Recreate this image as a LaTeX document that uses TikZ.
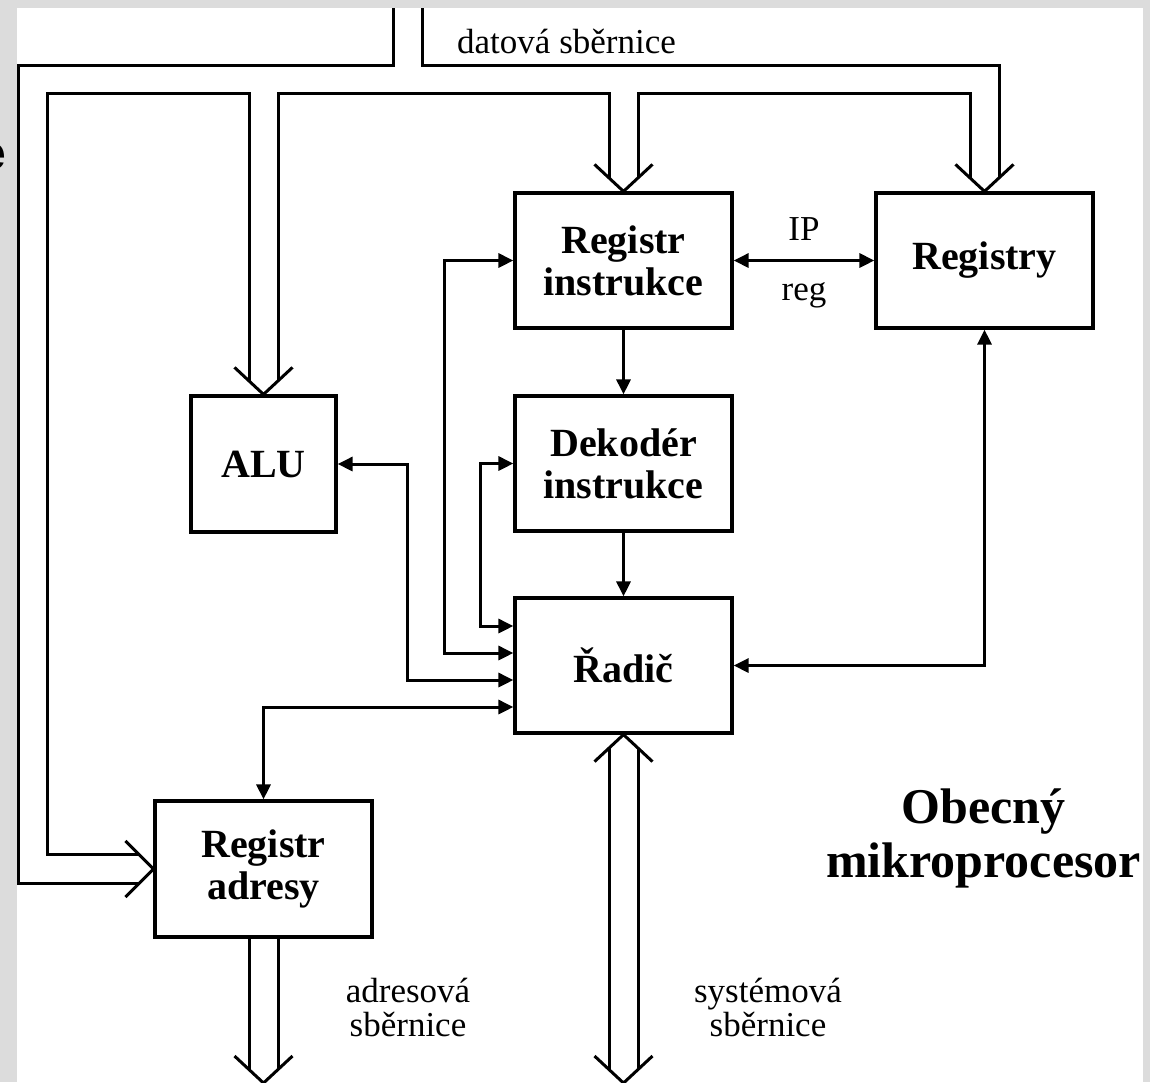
\documentclass[tikz,border=0pt]{standalone}
\usepackage{fontspec}
\setmainfont{Liberation Serif}
\newfontfamily\fragsans{Liberation Sans}
\usetikzlibrary{arrows.meta,calc}
\definecolor{framegray}{RGB}{220,220,220}
\tikzset{
  blk/.style={draw, line width=3.2pt, minimum width=217pt, minimum height=135pt, inner sep=0pt, align=center, font=\fontsize{40}{42}\selectfont\bfseries},
  conn/.style={line width=3pt, {Triangle[length=15pt,width=14pt]}-{Triangle[length=15pt,width=14pt]}},
  arr/.style={line width=3pt, -{Triangle[length=15pt,width=14pt]}},
  bus/.style={line width=3pt},
  lbl/.style={inner sep=0pt, font=\fontsize{35}{34}\selectfont, align=center},
  ttlstyle/.style={inner sep=0pt, font=\fontsize{50}{54}\selectfont\bfseries, align=center},
}
\begin{document}
\begin{tikzpicture}[x=1pt,y=-1pt]
\useasboundingbox (0,0) rectangle (1150,1082);
\fill[framegray] (0,0) rectangle (1150,1082);
\fill[white] (17,8) rectangle (1143,1082);
\node[anchor=east, inner sep=0pt, font=\fontsize{48}{50}\fragsans\bfseries] (efrag) at (6.5,157) {e};

% blocks
\node[blk] (ri) at (623.5,260.5) {Registr\\instrukce};
\node[blk] (reg) at (984.5,260.5) {Registry};
\node[blk, minimum width=145pt, minimum height=136pt] (alu) at (263.5,464) {ALU};
\node[blk] (dek) at (623.5,463.5) {Dekodér\\instrukce};
\node[blk] (rad) at (623.5,665.5) {Řadič};
\node[blk, minimum height=136pt] (ra) at (263.5,869) {Registr\\adresy};

% bus attachment points
\coordinate (aluL) at ($(alu.north)+(-14.5,-13.5)$);
\coordinate (aluR) at ($(alu.north)+(14.5,-13.5)$);
\coordinate (riL) at ($(ri.north)+(-14.5,-13.5)$);
\coordinate (riR) at ($(ri.north)+(14.5,-13.5)$);
\coordinate (regL) at ($(reg.north)+(-14.5,-13.5)$);
\coordinate (regR) at ($(reg.north)+(14.5,-13.5)$);
\coordinate (raU) at ($(ra.west)+(-14.5,-14.5)$);
\coordinate (raD) at ($(ra.west)+(-14.5,14.5)$);
\coordinate (topA) at (393,8);
\coordinate (topB) at (422,8);
\coordinate (aend) at (ra.south |- 0,1083);
\coordinate (send) at (rad.south |- 0,1083);

% data bus
\draw[bus] (topA) |- (18,65) |- (raD);
\draw[bus] (topB) -- (422,65) -| (regR);
\draw[bus] (raU) -| (47,93) -| (aluL);
\draw[bus] (aluR) -- (aluR |- 0,93) -| (riL);
\draw[bus] (riR) -- (riR |- 0,93) -| (regL);

% open bus arrowheads
\draw[bus] ($(alu.north)+(-29,-27)$) -- (alu.north) -- ($(alu.north)+(29,-27)$);
\draw[bus] ($(ri.north)+(-29,-27)$) -- (ri.north) -- ($(ri.north)+(29,-27)$);
\draw[bus] ($(reg.north)+(-29,-27)$) -- (reg.north) -- ($(reg.north)+(29,-27)$);
\draw[bus] ($(ra.west)+(-28,-28)$) -- (ra.west) -- ($(ra.west)+(-28,28)$);

% address bus
\draw[bus] ($(ra.south)+(-14.5,0)$) -- ($(aend)+(-14.5,-13.5)$);
\draw[bus] ($(ra.south)+(14.5,0)$) -- ($(aend)+(14.5,-13.5)$);
\draw[bus] ($(aend)+(-29,-27)$) -- (aend) -- ($(aend)+(29,-27)$);

% system bus
\draw[bus] ($(rad.south)+(-14.5,13.5)$) -- ($(send)+(-14.5,-13.5)$);
\draw[bus] ($(rad.south)+(14.5,13.5)$) -- ($(send)+(14.5,-13.5)$);
\draw[bus] ($(rad.south)+(-29,27)$) -- (rad.south) -- ($(rad.south)+(29,27)$);
\draw[bus] ($(send)+(-29,-27)$) -- (send) -- ($(send)+(29,-27)$);

% control connectors
\draw[arr] (ri.south) -- (dek.north);
\draw[arr] (dek.south) -- (rad.north);
\draw[conn] (ri.east) -- (reg.west);
\draw[conn] (rad.east) -| (reg.south);
\draw[conn] (ri.west) -| (444,653) -- (rad.west |- 0,653);
\draw[conn] (dek.west) -| (480,626) -- (rad.west |- 0,626);
\draw[conn] (alu.east) -| (407,680) -- (rad.west |- 0,680);
\draw[conn] (rad.west |- 0,707) -| (ra.north);

% labels
\node[lbl, anchor=base west] (dsb) at (457,53) {datová sběrnice};
\node[lbl] (ip) at (804,229) {IP};
\node[lbl] (rg) at (804,295) {reg};
\node[lbl] (asb) at (408,1007) {adresová\\sběrnice};
\node[lbl] (ssb) at (768,1007) {systémová\\sběrnice};
\node[ttlstyle] (ttl) at (983.5,838) {Obecný\\mikroprocesor};
\end{tikzpicture}
\end{document}
